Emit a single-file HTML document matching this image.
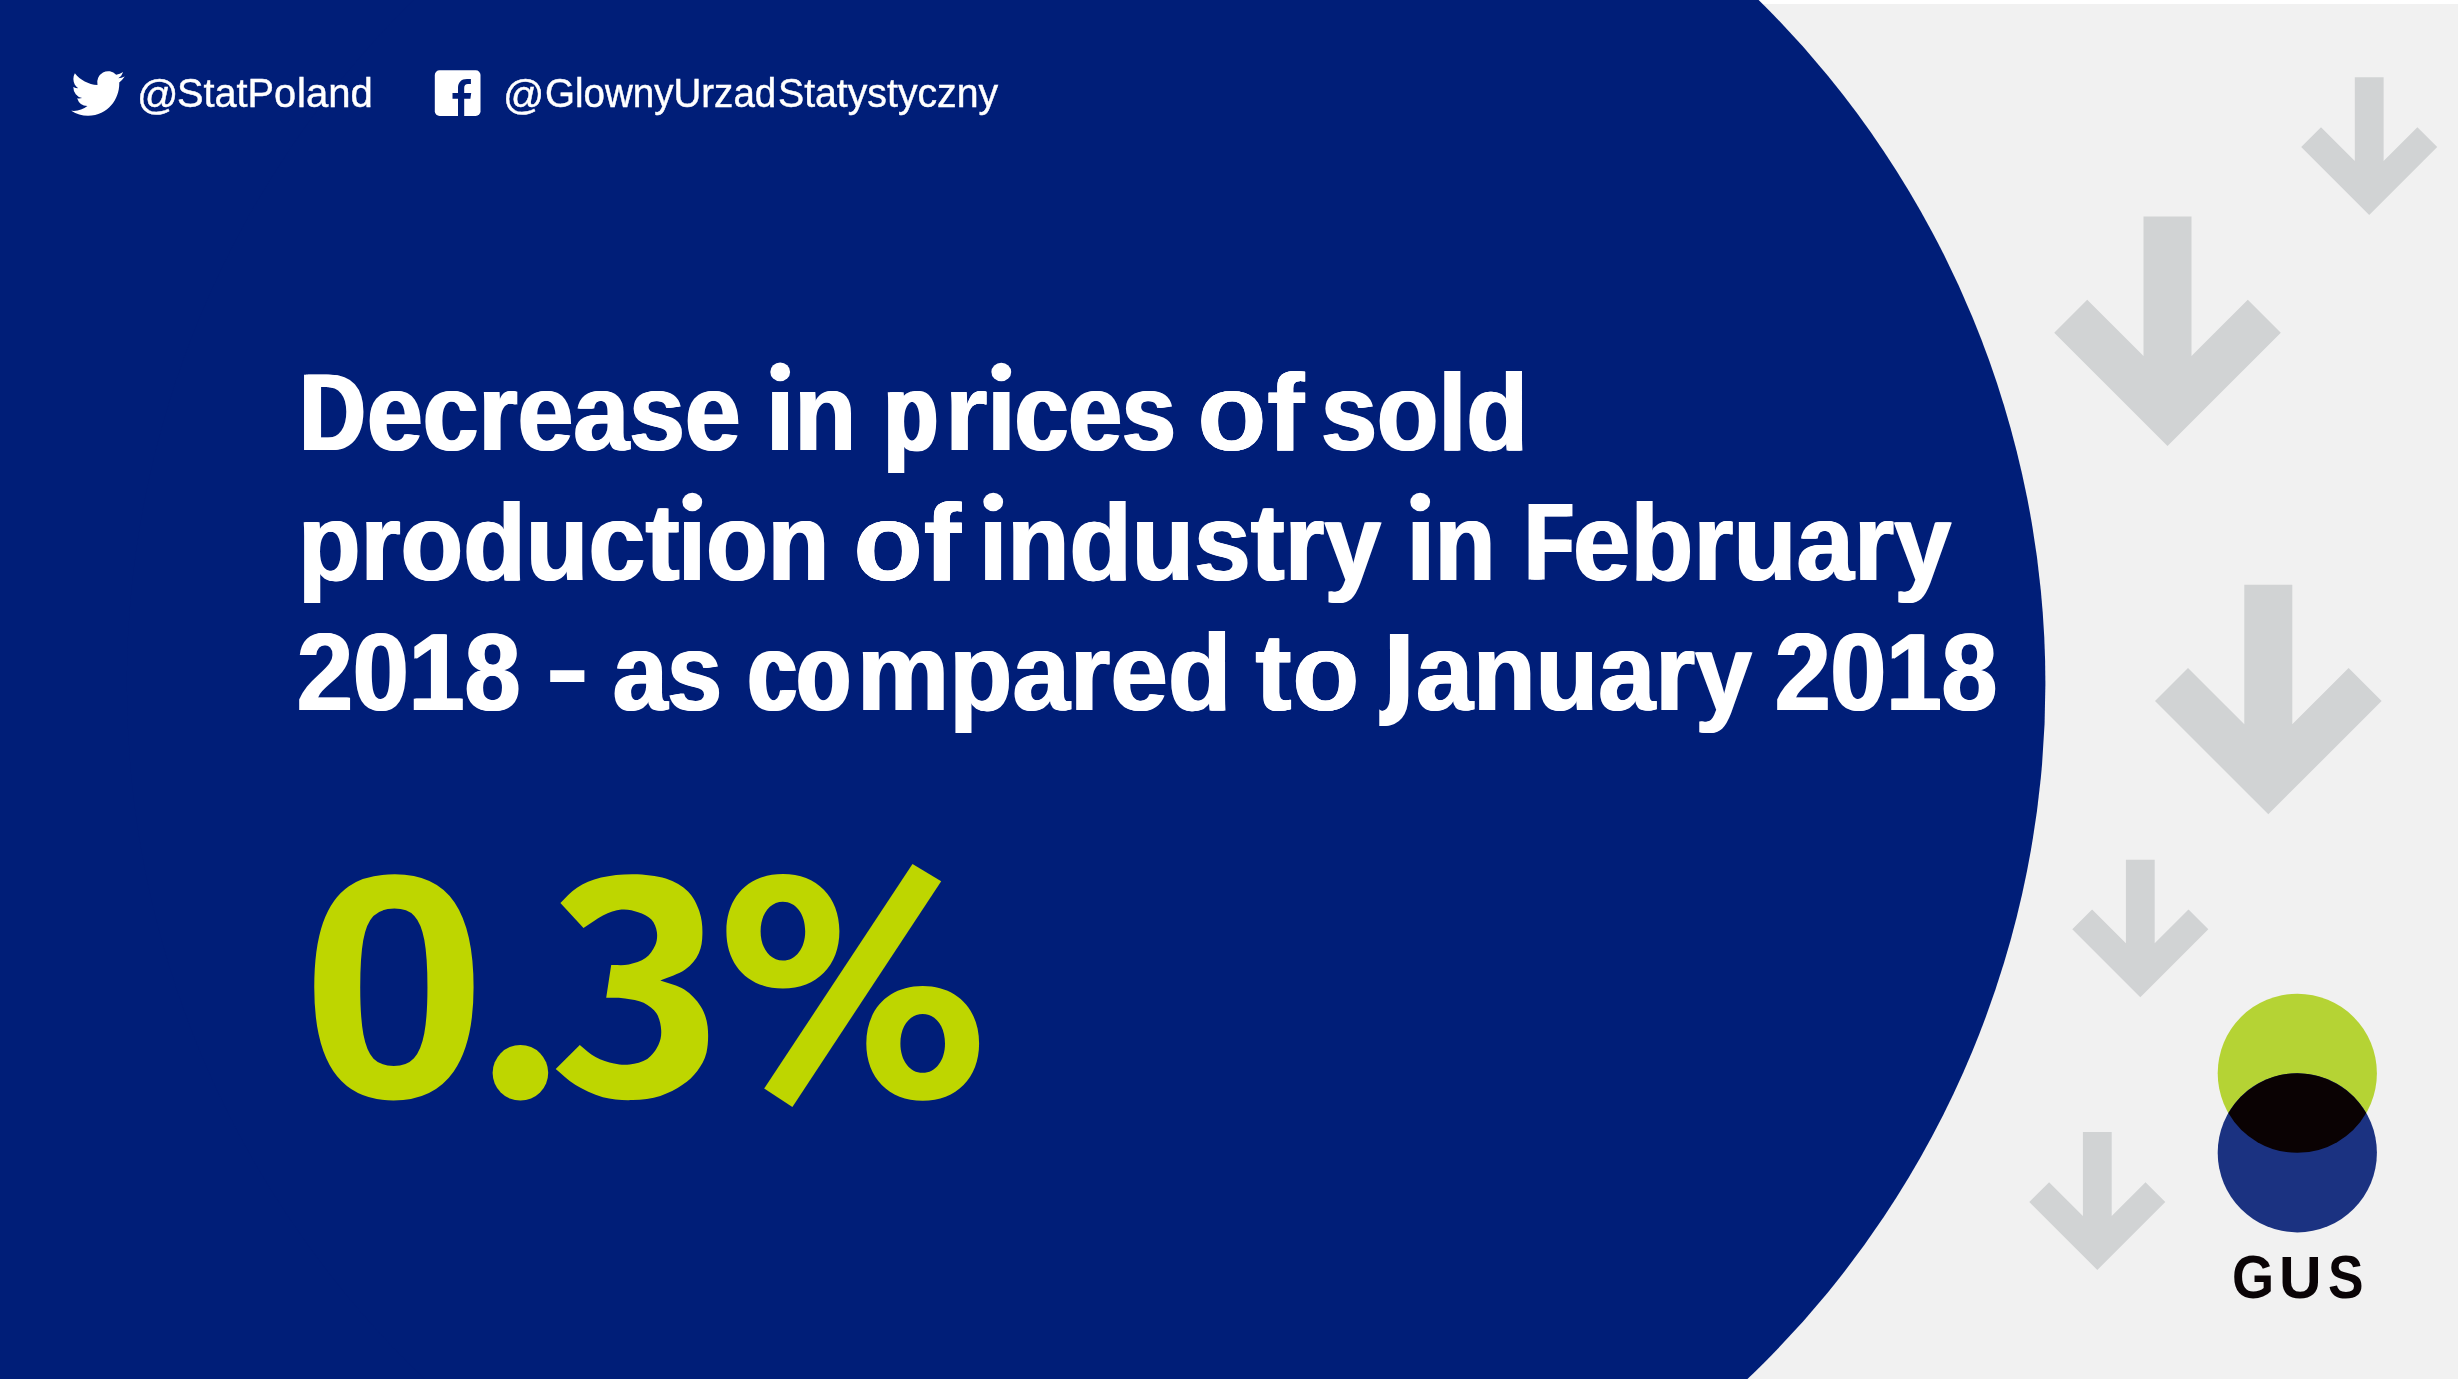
<!DOCTYPE html>
<html lang="en"><head><meta charset="utf-8"><title>GUS infographic</title>
<style>
html,body{margin:0;padding:0;}
body{width:2458px;height:1379px;overflow:hidden;background:#f1f1f1;font-family:"Liberation Sans",sans-serif;}
#stage{position:relative;width:2458px;height:1379px;overflow:hidden;background:#f1f1f1;}
#art{position:absolute;left:0;top:0;}
#txt{position:absolute;left:0;top:0;width:2458px;height:1379px;will-change:transform;}
.t{position:absolute;white-space:pre;line-height:1;transform-origin:0 0;margin:0;padding:0;}
.h{font-weight:bold;color:#fff;text-shadow:0.8px 0 0 #fff,-0.8px 0 0 #fff;}
.ns{text-shadow:none;}
.s{font-weight:normal;color:#fff;-webkit-text-stroke:0.45px #fff;}
.n{font-weight:bold;color:#bed600;}
.g{font-weight:bold;color:#0a0406;}
</style></head>
<body>
<div id="stage">
<svg id="art" width="2458" height="1379" viewBox="0 0 2458 1379">
<rect x="0" y="0" width="2458" height="1379" fill="#f1f1f1"/>
<rect x="0" y="0" width="2458" height="4" fill="#ffffff"/>
<rect x="0" y="0" width="1086.1" height="1379" fill="#001e78"/>
<circle cx="1086.1" cy="684.1" r="959.3" fill="#001e78"/>
<g fill="#d1d3d4">
<polygon points="2354.8,77.2 2383.6,77.2 2383.6,161.0 2417.4,127.2 2437.2,147.0 2369.2,215.0 2301.2,147.0 2321.0,127.2 2354.8,161.0"/>
<polygon points="2143.5,216.4 2191.5,216.4 2191.5,356.0 2247.8,299.7 2280.8,332.7 2167.5,446.0 2054.2,332.7 2087.2,299.7 2143.5,356.0"/>
<polygon points="2244.3,584.7 2292.3,584.7 2292.3,724.3 2348.6,668.0 2381.6,701.0 2268.3,814.3 2155.0,701.0 2188.0,668.0 2244.3,724.3"/>
<polygon points="2125.9,859.7 2154.7,859.7 2154.7,943.3 2188.5,909.5 2208.3,929.3 2140.3,997.3 2072.3,929.3 2092.1,909.5 2125.9,943.3"/>
<polygon points="2082.9,1132.0 2111.7,1132.0 2111.7,1216.0 2145.5,1182.2 2165.3,1202.0 2097.3,1270.0 2029.3,1202.0 2049.1,1182.2 2082.9,1216.0"/>
</g>
<circle cx="2297.3" cy="1073.3" r="79.6" fill="#b5d334"/>
<circle cx="2297.3" cy="1152.8" r="79.6" fill="#1b3281"/>
<path d="M2228.36 1113.05 A79.6 79.6 0 0 1 2366.24 1113.05 A79.6 79.6 0 0 1 2228.36 1113.05 Z" fill="#0a0203"/>
<path transform="translate(71.2,66.05) scale(2.2304,2.288)" d="M23.953 4.57a10 10 0 01-2.825.775 4.958 4.958 0 002.163-2.723c-.951.555-2.005.959-3.127 1.184a4.92 4.92 0 00-8.384 4.482C7.69 8.095 4.067 6.13 1.64 3.162a4.822 4.822 0 00-.666 2.475c0 1.71.87 3.213 2.188 4.096a4.904 4.904 0 01-2.228-.616v.06a4.923 4.923 0 003.946 4.827 4.996 4.996 0 01-2.212.085 4.936 4.936 0 004.604 3.417 9.867 9.867 0 01-6.102 2.105c-.39 0-.779-.023-1.17-.067a13.995 13.995 0 007.557 2.209c9.053 0 13.998-7.496 13.998-13.985 0-.21 0-.42-.015-.63A9.935 9.935 0 0024 4.59z" fill="#fff"/>
<rect x="434.8" y="70.3" width="45.7" height="45.7" rx="4.8" ry="4.8" fill="#fff"/>
<path d="M458 116 V98.8 H452.5 V93 H458 V88 C458 82.2 461.2 78.9 467 78.9 H470.9 V83.9 H468 C465.4 83.9 464.2 85.2 464.2 88 V93 H471.2 L470.4 98.8 H464.2 V116 Z" fill="#001e78"/>
<ellipse cx="780.2" cy="371.9" rx="9.9" ry="9.3" fill="#fff"/>
<ellipse cx="1001.3" cy="372.0" rx="9.9" ry="9.3" fill="#fff"/>
<ellipse cx="692.3" cy="502.0" rx="9.9" ry="9.3" fill="#fff"/>
<ellipse cx="993.25" cy="502.0" rx="9.9" ry="9.3" fill="#fff"/>
<ellipse cx="1420.2" cy="502.0" rx="9.9" ry="9.3" fill="#fff"/>
<circle cx="520.4" cy="1072.8" r="27.8" fill="#bed600"/>
<path d="M560.4 902.9 C565.9 897.9 570.2 892.0 577.0 887.8 C583.8 883.5 591.6 879.8 601.1 877.6 C610.5 875.3 622.6 874.1 633.4 874.2 C644.2 874.4 656.7 875.6 665.8 878.5 C674.9 881.4 682.4 885.9 688.0 891.5 C693.6 897.0 697.1 904.7 699.5 911.8 C701.9 918.9 702.6 927.1 702.4 934.0 C702.3 940.9 701.6 947.5 698.7 953.4 C695.9 959.4 691.6 965.0 685.2 969.5 C678.8 974.1 668.6 976.9 660.3 980.6 C668.3 983.6 677.6 985.3 684.3 989.5 C691.0 993.8 696.7 1000.0 700.6 1006.2 C704.5 1012.3 706.6 1018.8 707.6 1026.5 C708.6 1034.2 708.2 1045.0 706.5 1052.4 C704.8 1059.8 701.3 1065.5 697.3 1070.9 C693.3 1076.3 688.6 1080.6 682.5 1084.8 C676.3 1089.0 668.6 1093.3 660.3 1095.9 C651.9 1098.5 642.1 1099.9 632.5 1100.1 C622.9 1100.4 612.5 1099.7 602.9 1097.2 C593.3 1094.6 583.0 1089.5 575.2 1084.8 C567.3 1080.1 562.2 1074.3 555.7 1069.1 L579.8 1045.0 C585.0 1049.0 589.8 1054.0 595.5 1057.0 C601.2 1060.1 608.3 1062.3 614.0 1063.5 C619.7 1064.7 624.2 1065.2 629.7 1064.4 C635.3 1063.7 642.5 1062.1 647.3 1058.9 C652.1 1055.7 656.1 1049.8 658.4 1045.0 C660.7 1040.2 661.5 1035.5 661.2 1030.2 C660.9 1025.0 659.5 1018.1 656.6 1013.6 C653.6 1009.0 648.8 1005.4 643.6 1002.8 C638.4 1000.3 631.3 999.2 625.1 998.4 C618.9 997.6 612.5 998.0 606.2 997.8 L611.2 965.1 C617.1 964.9 623.1 965.7 628.8 964.5 C634.5 963.4 641.1 961.2 645.5 958.1 C649.8 954.9 653.2 949.8 655.1 945.5 C657.0 941.2 657.5 936.5 656.9 932.2 C656.3 927.8 654.5 922.9 651.4 919.6 C648.2 916.2 643.1 913.8 638.1 912.2 C633.1 910.5 627.3 909.0 621.4 909.6 C615.5 910.1 609.2 912.4 602.9 915.5 C596.6 918.6 590.0 923.9 583.5 928.1 L560.4 902.9 Z" fill="#bed600" role="img" aria-label="3"/>
<g fill="#bed600" fill-rule="evenodd" role="img" aria-label="%">
<path d="M726.4 931.2 C726.4 896.8 749.0 873.9 782.9 873.9 C816.8 873.9 839.4 896.8 839.4 931.2 C839.4 965.6 816.8 988.5 782.9 988.5 C749.0 988.5 726.4 965.6 726.4 931.2 Z M760.6 931.2 C760.6 914.1 770.0 901.8 782.9 901.8 C795.8 901.8 805.2 914.1 805.2 931.2 C805.2 948.3 795.8 960.6 782.9 960.6 C770.0 960.6 760.6 948.3 760.6 931.2 Z"/>
<path d="M866.3 1043.4 C866.3 1009.0 888.9 986.1 922.7 986.1 C956.5 986.1 979.1 1009.0 979.1 1043.4 C979.1 1077.8 956.5 1100.7 922.7 1100.7 C888.9 1100.7 866.3 1077.8 866.3 1043.4 Z M900.4 1043.4 C900.4 1026.3 909.8 1014.0 922.7 1014.0 C935.6 1014.0 945.0 1026.3 945.0 1043.4 C945.0 1060.5 935.6 1072.8 922.7 1072.8 C909.8 1072.8 900.4 1060.5 900.4 1043.4 Z"/>
<polygon points="912.5,864.1 941.2,881.3 792.4,1106.9 764.2,1088.5"/>
</g>
</svg>
<div id="txt">
<div class="t h" id="a1" style="left:299.92px;top:358.00px;font-size:109px;transform:scale(0.8281,1.0000);text-shadow:2.50px 0 0 #fff,-2.50px 0 0 #fff;">D</div>
<div class="t h" id="a1b" style="left:366.92px;top:358.00px;font-size:109px;transform:scale(0.9200,1.0000);text-shadow:1.27px 0 0 #fff,-1.27px 0 0 #fff;">ecrease</div>
<div class="t h" id="a2" style="left:765.65px;top:358.00px;font-size:109px;transform:scale(0.9319,1.0000);clip-path:polygon(27px 0px,2000px 0px,2000px 140px,-10px 140px,-10px 31px,27px 31px);text-shadow:1.15px 0 0 #fff,-1.15px 0 0 #fff;">in</div>
<div class="t h" id="a3" style="left:883.92px;top:358.00px;font-size:109px;transform:scale(0.8084,1.0000);text-shadow:2.51px 0 0 #fff,-2.51px 0 0 #fff;">p</div>
<div class="t h" id="a3b" style="left:944.12px;top:358.00px;font-size:109px;transform:scale(1.0386,1.0000);text-shadow:0.24px 0 0 #fff,-0.24px 0 0 #fff;">r</div>
<div class="t h" id="a3c" style="left:988.26px;top:358.00px;font-size:109px;transform:scale(0.8844,1.0000);clip-path:polygon(27px 0px,2000px 0px,2000px 140px,-10px 140px,-10px 31px,27px 31px);text-shadow:1.63px 0 0 #fff,-1.63px 0 0 #fff;">ices</div>
<div class="t h" id="a4" style="left:1197.23px;top:358.00px;font-size:109px;transform:scale(1.0471,1.0000);text-shadow:0.20px 0 0 #fff,-0.20px 0 0 #fff;">of</div>
<div class="t h" id="a5" style="left:1320.71px;top:358.00px;font-size:109px;transform:scale(0.9235,1.0000);text-shadow:1.23px 0 0 #fff,-1.23px 0 0 #fff;">sold</div>
<div class="t h" id="b1" style="left:297.92px;top:488.00px;font-size:109px;transform:scale(0.9406,1.0000);text-shadow:1.07px 0 0 #fff,-1.07px 0 0 #fff;">product</div>
<div class="t h" id="b1b" style="left:677.89px;top:488.00px;font-size:109px;transform:scale(0.9260,1.0000);clip-path:polygon(27px 0px,2000px 0px,2000px 140px,-10px 140px,-10px 31px,27px 31px);text-shadow:1.21px 0 0 #fff,-1.21px 0 0 #fff;">ion</div>
<div class="t h" id="b2" style="left:853.00px;top:488.00px;font-size:109px;transform:scale(1.0533,1.0000);text-shadow:0.20px 0 0 #fff,-0.20px 0 0 #fff;">of</div>
<div class="t h" id="b3" style="left:978.83px;top:488.00px;font-size:109px;transform:scale(0.9350,1.0000);clip-path:polygon(27px 0px,2000px 0px,2000px 140px,-10px 140px,-10px 31px,27px 31px);text-shadow:1.12px 0 0 #fff,-1.12px 0 0 #fff;">industry</div>
<div class="t h" id="b4" style="left:1406.71px;top:488.00px;font-size:109px;transform:scale(0.9130,1.0000);clip-path:polygon(27px 0px,2000px 0px,2000px 140px,-10px 140px,-10px 31px,27px 31px);text-shadow:1.34px 0 0 #fff,-1.34px 0 0 #fff;">in</div>
<div class="t h" id="b5" style="left:1526.07px;top:488.00px;font-size:109px;transform:scale(0.7012,1.0000);text-shadow:3.50px 0 0 #fff,-3.50px 0 0 #fff;">F</div>
<div class="t h" id="b5b" style="left:1572.57px;top:488.00px;font-size:109px;transform:scale(0.9464,1.0000);text-shadow:1.02px 0 0 #fff,-1.02px 0 0 #fff;">ebruary</div>
<div class="t h" id="c1" style="left:296.65px;top:618.00px;font-size:109px;transform:scale(0.9213,1.0000);text-shadow:1.25px 0 0 #fff,-1.25px 0 0 #fff;">2018</div>
<div class="t h ns" id="c2" style="left:544.56px;top:618.77px;font-size:109px;transform:scale(1.2313,0.9030);">-</div>
<div class="t h" id="c3" style="left:613.02px;top:618.00px;font-size:109px;transform:scale(0.8963,1.0000);text-shadow:1.50px 0 0 #fff,-1.50px 0 0 #fff;">as</div>
<div class="t h" id="c4" style="left:748.46px;top:618.00px;font-size:109px;transform:scale(0.8044,1.0000);text-shadow:2.56px 0 0 #fff,-2.56px 0 0 #fff;">co</div>
<div class="t h" id="c4b" style="left:857.45px;top:618.00px;font-size:109px;transform:scale(0.9505,1.0000);text-shadow:0.98px 0 0 #fff,-0.98px 0 0 #fff;">mpared</div>
<div class="t h" id="c5" style="left:1254.64px;top:618.00px;font-size:109px;transform:scale(1.0180,1.0000);text-shadow:0.40px 0 0 #fff,-0.40px 0 0 #fff;">to</div>
<div class="t h" id="c6b" style="left:1416.40px;top:618.00px;font-size:109px;transform:scale(0.9403,1.0000);text-shadow:1.07px 0 0 #fff,-1.07px 0 0 #fff;">anuary</div>
<div class="t h" id="c7" style="left:1774.67px;top:618.00px;font-size:109px;transform:scale(0.9164,1.0000);text-shadow:1.30px 0 0 #fff,-1.30px 0 0 #fff;">2018</div>
<div class="t s" id="s1a" style="left:137.00px;top:74.96px;font-size:40px;transform:scale(1.0221,1.0088);">@</div>
<div class="t s" id="s1b" style="left:176.87px;top:73.00px;font-size:40px;transform:scale(0.9922,1.0000);">StatPo</div>
<div class="t s" id="s1c" style="left:297.30px;top:73.00px;font-size:40px;transform:scale(1.0005,1.0000);">land</div>
<div class="t s" id="s2a" style="left:503.42px;top:74.96px;font-size:40px;transform:scale(1.0188,1.0088);">@</div>
<div class="t s" id="s2b" style="left:544.54px;top:73.00px;font-size:40px;transform:scale(0.9632,1.0000);">GlownyUrzad</div>
<div class="t s" id="s2c" style="left:777.50px;top:73.00px;font-size:40px;transform:scale(0.9805,1.0000);">Statystyczny</div>
<div class="t n" id="n1" style="left:300.89px;top:826.95px;font-size:319px;transform:scale(1.0502,1.0011);">0</div>
<div class="t g" id="g1" style="left:2231.70px;top:1248.28px;font-size:59px;transform:scale(0.9176,1.0246);">G</div>
<div class="t g" id="g2" style="left:2279.00px;top:1247.88px;font-size:59px;transform:scale(1.0004,1.0125);">U</div>
<div class="t g" id="g3" style="left:2327.89px;top:1248.28px;font-size:59px;transform:scale(0.9030,1.0246);">S</div>
<div class="t h" id="c6" style="left:1356.10px;top:614.60px;font-size:109px;transform:scale(0.9500,1.2000);clip-path:polygon(35.7px 0px,64px 0px,64px 140px,24.5px 140px,24.5px 66px,35.7px 66px);text-shadow:1.93px 0 0 #fff,-1.93px 0 0 #fff;">J</div>
</div>
</div>
</body></html>
